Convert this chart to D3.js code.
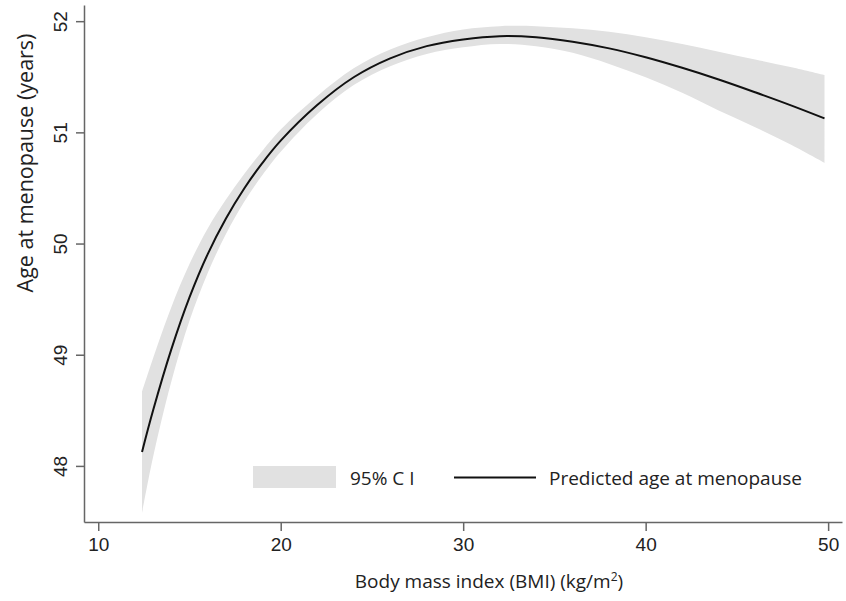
<!DOCTYPE html>
<html lang="en">
<head>
<meta charset="UTF-8">
<title>Age at menopause by BMI</title>
<script src="https://cdn.jsdelivr.net/npm/d3@7/dist/d3.min.js"></script>
<style>
body { margin: 0; background: #fff; }
svg { font-family: "Open Sans", "Noto Sans", sans-serif; }
.axis path, .axis line { stroke: #666; stroke-width: 1.5; }
.axis text { fill: #222; font-size: 19px; }
.title { fill: #222; font-size: 19px; }
</style>
</head>
<body>
<svg width="846" height="601"></svg>
<script>
// BMI values where the curve was read
var bmi = [12.4, 13, 14, 15, 16, 17, 18, 19, 20, 22, 24, 26, 28, 30, 32, 34, 36, 38, 40, 42, 44, 46, 48, 49.8];
// predicted age at menopause
var predicted = [48.13, 48.50, 49.05, 49.52, 49.91, 50.23, 50.50, 50.73, 50.93, 51.25, 51.50, 51.67, 51.78, 51.84, 51.87, 51.86, 51.82, 51.76, 51.68, 51.585, 51.48, 51.365, 51.245, 51.13];
// 95% CI bounds
var ciUpper = [48.67, 48.97, 49.43, 49.82, 50.14, 50.40, 50.63, 50.84, 51.03, 51.33, 51.58, 51.75, 51.86, 51.93, 51.96, 51.96, 51.94, 51.91, 51.86, 51.80, 51.73, 51.66, 51.59, 51.52];
var ciLower = [47.58, 48.08, 48.76, 49.31, 49.74, 50.09, 50.38, 50.62, 50.83, 51.17, 51.43, 51.60, 51.71, 51.77, 51.80, 51.78, 51.72, 51.62, 51.50, 51.36, 51.20, 51.05, 50.89, 50.73];

var xTicks = [10, 20, 30, 40, 50];
var yTicks = [48, 49, 50, 51, 52];

var svg = d3.select("svg");

var x = d3.scaleLinear().domain([9.22, 50.76]).range([84, 842]);
var y = d3.scaleLinear().domain([47.5, 52.15]).range([522, 5]);

var rows = bmi.map(function(b, i) {
    return { b: b, p: predicted[i], lo: ciLower[i], hi: ciUpper[i] };
});

var curve = d3.curveCatmullRom.alpha(0.5);

// CI band
svg.append("path")
    .datum(rows)
    .attr("fill", "#e1e1e1")
    .attr("d", d3.area()
        .curve(curve)
        .x(function(d) { return x(d.b); })
        .y0(function(d) { return y(d.lo); })
        .y1(function(d) { return y(d.hi); }));

// prediction line
svg.append("path")
    .datum(rows)
    .attr("fill", "none")
    .attr("stroke", "#111")
    .attr("stroke-width", 2)
    .attr("d", d3.line()
        .curve(curve)
        .x(function(d) { return x(d.b); })
        .y(function(d) { return y(d.p); }));

// axes
var gx = svg.append("g").attr("class", "axis")
    .attr("transform", "translate(0,522)")
    .call(d3.axisBottom(x).tickValues(xTicks).tickSize(9).tickSizeOuter(0).tickPadding(7));
gx.selectAll("text").attr("dy", "0.71em");

var gy = svg.append("g").attr("class", "axis")
    .attr("transform", "translate(84,0)")
    .call(d3.axisLeft(y).tickValues(yTicks).tickFormat(d3.format("d")).tickSize(8).tickSizeOuter(0));
gy.selectAll(".tick").attr("transform", null);
gy.selectAll(".tick line").attr("transform", function(d) { return "translate(0," + y(d) + ")"; });
gy.selectAll(".tick text")
    .attr("x", null).attr("dy", null).attr("y", 0)
    .attr("text-anchor", "middle")
    .attr("transform", function(d) { return "translate(-17," + y(d) + ") rotate(-90)"; });

// axis titles
svg.append("text").attr("class", "title")
    .attr("x", 489).attr("y", 588)
    .attr("text-anchor", "middle")
    .html("Body mass index (BMI) (kg/m<tspan dy='-7' font-size='12px'>2</tspan><tspan dy='7'>)</tspan>");

svg.append("text").attr("class", "title")
    .attr("transform", "translate(33,163) rotate(-90)")
    .attr("text-anchor", "middle")
    .style("font-size", "21.5px")
    .text("Age at menopause (years)");

// legend
var leg = svg.append("g");
leg.append("rect").attr("x", 253).attr("y", 466).attr("width", 83).attr("height", 22).attr("fill", "#e1e1e1");
leg.append("text").attr("class", "title").attr("x", 350).attr("y", 485).text("95% C I");
leg.append("line").attr("x1", 454).attr("x2", 536).attr("y1", 477.5).attr("y2", 477.5)
    .attr("stroke", "#111").attr("stroke-width", 2);
leg.append("text").attr("class", "title").attr("x", 549).attr("y", 485).text("Predicted age at menopause");
</script>
</body>
</html>
